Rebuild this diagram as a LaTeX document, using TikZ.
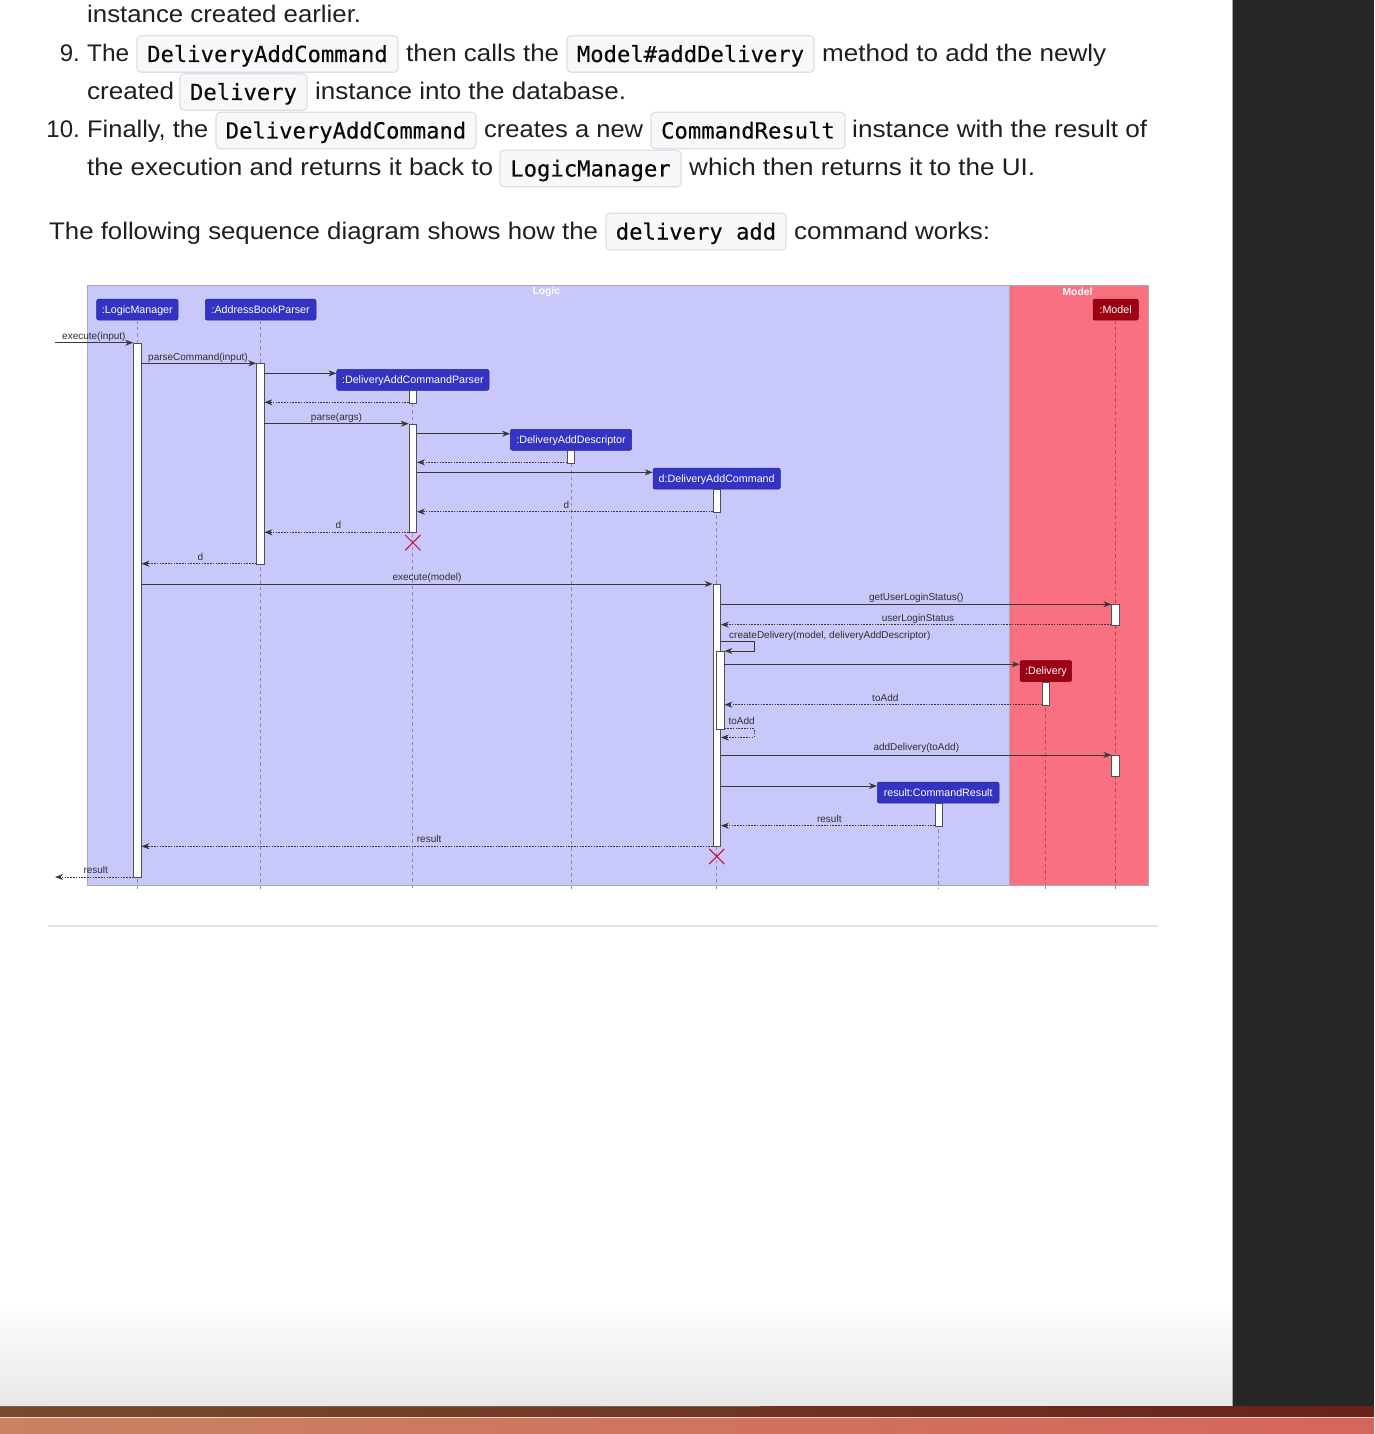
\documentclass[tikz,border=0pt]{standalone}
\usepackage{fontspec}
\usepackage{graphicx}
\setmainfont{Liberation Sans}
\newfontfamily\codefont{DejaVu Sans Mono}[FakeBold=0.3]
\newfontfamily\umlfont{Liberation Sans}
\usetikzlibrary{arrows.meta,shapes.misc}
\definecolor{bodytext}{HTML}{1F1F22}
\definecolor{codefill}{HTML}{F8F8FB}
\definecolor{codeborder}{HTML}{DEDEE4}
\definecolor{codetext}{HTML}{0A0A0A}
\definecolor{logicT}{HTML}{C8C8FA}
\definecolor{modelT}{HTML}{F97181}
\definecolor{logicC}{HTML}{3333C4}
\definecolor{modelC}{HTML}{9D0012}
\definecolor{framegray}{HTML}{A9A9B4}
\definecolor{lifegray}{HTML}{8E8EA0}
\definecolor{lifered}{HTML}{B84454}
\definecolor{arrowcol}{HTML}{383838}
\definecolor{labelcol}{HTML}{2E2E2E}
\definecolor{actborder}{HTML}{505050}
\definecolor{destroyC}{HTML}{C81E4A}
\definecolor{panel}{HTML}{262626}
\definecolor{rulegray}{HTML}{E4E4E8}
\definecolor{pagebottom}{HTML}{E8E8E8}
\definecolor{dockbrownA}{HTML}{7A4A2A}
\definecolor{dockbrownB}{HTML}{6A2218}
\definecolor{dockA}{HTML}{C98262}
\definecolor{dockB}{HTML}{D6655C}
\newdimen\fitlen
\newcommand\fitw[2]{\settowidth\fitlen{#2}\pgfmathsetmacro\fitsc{(#1)/\fitlen}\scalebox{\fitsc}[1]{#2}}
\tikzset{
  body/.style={anchor=base west, inner sep=0, text=bodytext, font=\fontsize{24}{28}\selectfont},
  codebox/.style={draw=codeborder, fill=codefill, rounded corners=4pt, line width=1.1pt,
    text=codetext, font=\codefont\fontsize{22.2}{26}\selectfont, inner xsep=0, inner ysep=0,
    text height=16, text depth=0, minimum height=36.5},
  frame/.style={draw=framegray, line width=1pt, anchor=north west, inner sep=0},
  ftitle/.style={text=white, font=\umlfont\bfseries\fontsize{10.3}{12}\selectfont, inner sep=0},
  part/.style={fill=logicC, draw=logicC!75!black, line width=0.5pt, rounded corners=2pt, text=white,
    font=\umlfont\fontsize{10.7}{12}\selectfont, inner sep=0, text height=7.7, text depth=0, minimum height=21},
  mpart/.style={part, fill=modelC, draw=modelC!75!black},
  lifeline/.style={draw=lifegray, line width=0.8pt, dash pattern=on 3.5pt off 3pt},
  redlife/.style={lifeline, draw=lifered},
  act/.style={draw=actborder, fill=white, line width=0.8pt, inner sep=0, minimum width=7.3, anchor=north},
  msg/.style={draw=arrowcol, line width=0.9pt, -{Stealth[length=8pt,width=6pt,inset=2.5pt]}},
  ret/.style={msg, dash pattern=on 1.6pt off 1.2pt},
  mlab/.style={font=\umlfont\fontsize{10}{12}\selectfont, text=labelcol, inner sep=0, anchor=base},
  mlabw/.style={mlab, anchor=base west},
  destroy/.style={cross out, draw=destroyC, line width=1.2pt, minimum size=14, inner sep=0},
}
\begin{document}
\begin{tikzpicture}[x=1pt,y=-1pt]
\useasboundingbox (0,0) rectangle (1374,1434);
% page
\fill[white] (0,0) rectangle (1232,1406);
\shade[top color=white,bottom color=pagebottom] (0,1300) rectangle (1232,1406);
\fill[panel] (1232,0) rectangle (1374,1406);
\draw[gray!70,line width=1.5pt] (1232.5,0) -- (1232.5,1406);
\shade[left color=dockbrownA,right color=dockbrownB] (0,1406) rectangle (1374,1417);
\draw[black!60,line width=1pt] (0,1406) -- (760,1406);
\shade[left color=dockA,right color=dockB] (0,1417) rectangle (1374,1434);
\draw[white!70!dockA,line width=0.8pt] (0,1417) -- (1374,1417);

% ---------- text ----------
\node[body] (t1) at (87,23) {\fitw{274}{instance created earlier.}};
\node[body,anchor=base east] (n9) at (80,62) {9.};
\node[body] (t2) at (87,62) {\fitw{42}{The}};
\node[codebox,minimum width=261] (c1) at (267.5,54) {DeliveryAddCommand};
\node[body] (t3) at (406,62) {\fitw{153}{then calls the}};
\node[codebox,minimum width=247] (c2) at (690.5,54) {Model\#addDelivery};
\node[body] (t4) at (822,62) {\fitw{284}{method to add the newly}};
\node[body] (t5) at (87,100) {\fitw{87}{created}};
\node[codebox,minimum width=127] (c3) at (243.5,92) {Delivery};
\node[body] (t6) at (315,100) {\fitw{311}{instance into the database.}};
\node[body,anchor=base east] (n10) at (80,138) {10.};
\node[body] (t7) at (87,138) {\fitw{121}{Finally, the}};
\node[codebox,minimum width=260] (c4) at (346,130.5) {DeliveryAddCommand};
\node[body] (t8) at (484,138) {\fitw{159}{creates a new}};
\node[codebox,minimum width=194] (c5) at (748,130.5) {CommandResult};
\node[body] (t9) at (852,138) {\fitw{295}{instance with the result of}};
\node[body] (t10) at (87,176) {\fitw{406}{the execution and returns it back to}};
\node[codebox,minimum width=181] (c6) at (590.5,168.5) {LogicManager};
\node[body] (t11) at (689,176) {\fitw{346}{which then returns it to the UI.}};
\node[body] (t12) at (49,239) {\fitw{549}{The following sequence diagram shows how the}};
\node[codebox,minimum width=180] (c7) at (696,231.5) {delivery add};
\node[body] (t13) at (794,239) {\fitw{196}{command works:}};

\draw[rulegray,line width=1.5pt] (48,926) -- (1158,926);

% ---------- frames ----------
\node[frame,fill=logicT,minimum width=922.6,minimum height=599.7] (fL) at (86.7,285.3) {};
\node[frame,fill=modelT,minimum width=139,minimum height=599.7] (fM) at (1009.3,285.3) {};
\node[ftitle] (ftL) at (546.3,291.5) {Logic};
\node[ftitle] (ftM) at (1077.5,291.5) {Model};

% ---------- participants ----------
\node[part,minimum width=81.3] (pLM) at (137.35,309.65) {:LogicManager};
\node[part,minimum width=110.7] (pABP) at (260.65,309.65) {:AddressBookParser};
\node[part,minimum width=152.3] (pDACP) at (412.85,379.8) {:DeliveryAddCommandParser};
\node[part,minimum width=121.4] (pDAD) at (571,439.8) {:DeliveryAddDescriptor};
\node[part,minimum width=127.3] (pDAC) at (716.65,478.65) {d:DeliveryAddCommand};
\node[mpart,minimum width=45.3] (pModel) at (1115.65,309.65) {:Model};
\node[mpart,minimum width=51.7] (pDel) at (1045.85,671) {:Delivery};
\node[part,minimum width=121.7] (pCR) at (938.15,792.5) {result:CommandResult};

% ---------- lifelines ----------
\draw[lifeline] (pLM.south) -- (pLM.south |- 0,889);
\draw[lifeline] (pABP.south) -- (pABP.south |- 0,889);
\draw[lifeline] (pDACP.south) -- (pDACP.south |- 0,889);
\draw[lifeline] (pDAD.south) -- (pDAD.south |- 0,889);
\draw[lifeline] (pDAC.south) -- (pDAC.south |- 0,889);
\draw[lifeline] (pCR.south) -- (pCR.south |- 0,889);
\draw[redlife] (pModel.south) -- (pModel.south |- 0,884);
\draw[redlife] (pDel.south) -- (pDel.south |- 0,884);
\draw[lifeline] (pModel.south |- 0,886) -- (pModel.south |- 0,889);
\draw[lifeline] (pDel.south |- 0,886) -- (pDel.south |- 0,889);

% ---------- activations ----------
\node[act,minimum height=534.3] (aLM) at (137.35,342.7) {};
\node[act,minimum height=200.4] (aABP) at (260.35,363.3) {};
\node[act,minimum height=12.4] (aP1) at (412.85,390.3) {};
\node[act,minimum height=108.6] (aP2) at (412.85,423.7) {};
\node[act,minimum height=12.4] (aDAD) at (571.15,450.3) {};
\node[act,minimum height=22.4] (aDAC1) at (717,489.3) {};
\node[act,minimum height=262.3] (aDAC2) at (716.8,584) {};
\node[act,minimum height=78.3] (aDAC3) at (720.35,651) {};
\node[act,minimum height=20.7] (aM1) at (1115.5,604.3) {};
\node[act,minimum height=20.7] (aM2) at (1115.5,755) {};
\node[act,minimum height=23] (aDel) at (1046.2,681.7) {};
\node[act,minimum height=22.7] (aCR) at (938.8,803) {};

% ---------- messages ----------
\coordinate (inL) at (55,342.7);
\coordinate (outL) at (55,877);
\draw[msg] (inL) -- (aLM.west |- inL);
\node[mlabw] (l1) at (62,339.3) {execute(input)};
\draw[msg] (aLM.east |- 0,363.3) -- (aABP.west |- 0,363.3);
\node[mlabw] (l2) at (148,360) {parseCommand(input)};
\draw[msg] (aABP.east |- 0,373.3) -- (pDACP.west |- 0,373.3);
\draw[ret] (aP1.west |- 0,402.3) -- (aABP.east |- 0,402.3);
\draw[msg] (aABP.east |- 0,423.7) -- (aP2.west |- 0,423.7);
\node[mlab] (l3) at (336.5,420.3) {parse(args)};
\draw[msg] (aP2.east |- 0,433.7) -- (pDAD.west |- 0,433.7);
\draw[ret] (aDAD.west |- 0,462.3) -- (aP2.east |- 0,462.3);
\draw[msg] (aP2.east |- 0,472.3) -- (pDAC.west |- 0,472.3);
\draw[ret] (aDAC1.west |- 0,511.7) -- (aP2.east |- 0,511.7);
\node[mlab] (l4) at (566.3,508.3) {d};
\draw[ret] (aP2.west |- 0,532.3) -- (aABP.east |- 0,532.3);
\node[mlab] (l5) at (338.5,528.9) {d};
\node[destroy] (x1) at (412.85,542.7) {};
\draw[ret] (aABP.west |- 0,563.7) -- (aLM.east |- 0,563.7);
\node[mlab] (l6) at (200.5,560.3) {d};
\draw[msg] (aLM.east |- 0,584) -- (aDAC2.west |- 0,584);
\node[mlab] (l7) at (427,580.6) {execute(model)};
\draw[msg] (aDAC2.east |- 0,604.3) -- (aM1.west |- 0,604.3);
\node[mlab] (l8) at (916.3,600.9) {getUserLoginStatus()};
\draw[ret] (aM1.west |- 0,624.6) -- (aDAC2.east |- 0,624.6);
\node[mlab] (l9) at (918,621.2) {userLoginStatus};
\draw[msg] (aDAC2.east |- 0,641.7) -- (754,641.7) -- (754,651) -- (aDAC3.east |- 0,651);
\node[mlabw] (l10) at (729,638.5) {createDelivery(model, deliveryAddDescriptor)};
\draw[msg] (aDAC3.east |- 0,664.3) -- (pDel.west |- 0,664.3);
\draw[ret] (aDel.west |- 0,704.7) -- (aDAC3.east |- 0,704.7);
\node[mlab] (l11) at (885.3,701.2) {toAdd};
\draw[ret] (aDAC3.east |- 0,728.7) -- (754,728.7) -- (754,737.5) -- (aDAC2.east |- 0,737.5);
\node[mlabw] (l12) at (728.3,724.9) {toAdd};
\draw[msg] (aDAC2.east |- 0,755) -- (aM2.west |- 0,755);
\node[mlab] (l13) at (916.3,750.8) {addDelivery(toAdd)};
\draw[msg] (aDAC2.east |- 0,786) -- (pCR.west |- 0,786);
\draw[ret] (aCR.west |- 0,825.7) -- (aDAC2.east |- 0,825.7);
\node[mlab] (l14) at (829.3,822.4) {result};
\draw[ret] (aDAC2.west |- 0,846.3) -- (aLM.east |- 0,846.3);
\node[mlabw] (l15) at (416.7,842.9) {result};
\node[destroy] (x2) at (716.7,856.5) {};
\draw[ret] (aLM.west |- outL) -- (outL);
\node[mlabw] (l16) at (83.3,873.5) {result};
\end{tikzpicture}
\end{document}
